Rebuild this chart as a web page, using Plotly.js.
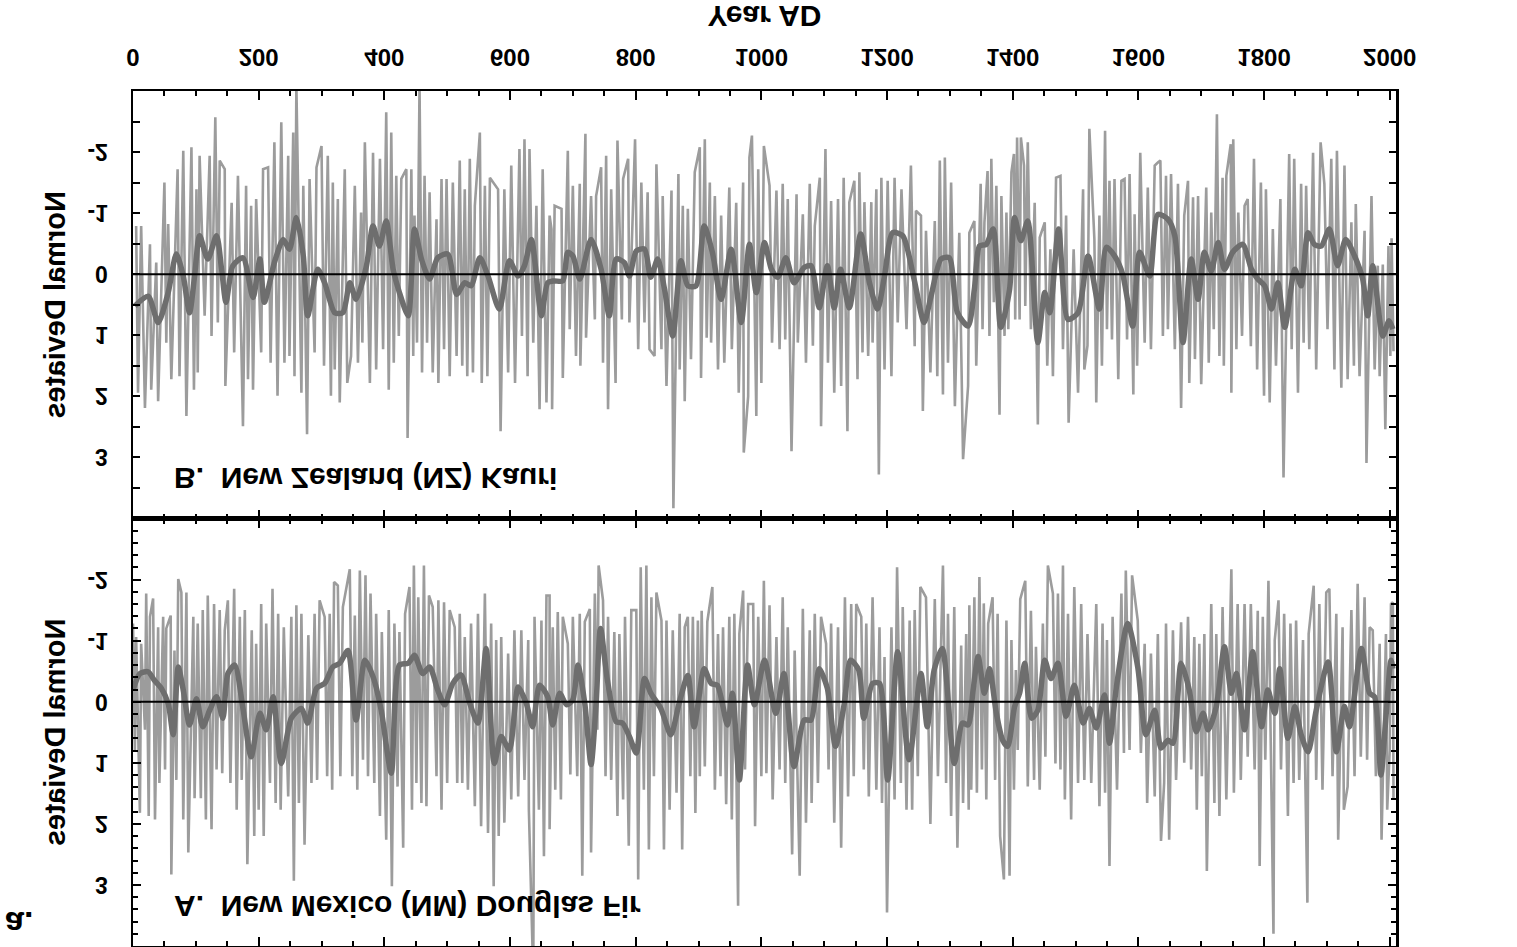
<!DOCTYPE html>
<html><head><meta charset="utf-8">
<script src="https://cdn.plot.ly/plotly-3.0.1.min.js"></script>
<style>html,body{margin:0;padding:0;background:#fff;overflow:hidden}#chart{width:1517px;height:947px}</style>
</head><body><div id="chart"></div>
<script>
// ---- Data (year AD, normal deviate) ----
// NZ Kauri (panel B): extreme annual values, negative side
const nzLow = [[5,-0.79],[13,-0.79],[27,-0.49],[37,-0.19],[50,-1.50],[56,-0.82],[71,-1.72],[80,-2.02],[93,-2.08],[101,-1.39],[106,-1.94],[122,-1.94],[131,-2.57],[138,-1.86],[146,-1.72],[157,-1.17],[167,-1.61],[180,-1.45],[188,-1.12],[196,-1.23],[207,-1.72],[215,-1.75],[225,-2.16],[236,-2.49],[247,-1.94],[255,-2.32],[260,-3.10],[271,-1.45],[281,-1.56],[292,-1.75],[300,-2.10],[310,-1.94],[318,-1.50],[326,-1.23],[337,-1.72],[353,-1.45],[363,-1.01],[369,-2.16],[382,-1.99],[393,-1.89],[403,-2.65],[411,-2.32],[419,-1.61],[427,-1.56],[435,-1.72],[443,-1.72],[448,-0.96],[456,-3.10],[464,-1.61],[472,-1.34],[483,-0.90],[491,-1.56],[499,-1.56],[509,-1.50],[520,-1.86],[528,-1.39],[536,-1.89],[544,-1.12],[552,-2.32],[560,-1.45],[568,-1.58],[581,-1.39],[591,-1.39],[602,-1.78],[615,-2.05],[623,-2.21],[631,-2.05],[642,-1.12],[652,-1.72],[663,-0.96],
[666,-0.74],[671,-1.12],[682,-1.07],[692,-2.02],[700,-1.45],[711,-1.48],[720,-2.30],[729,-1.28],[737,-1.28],[745,-1.75],[753,-1.94],[761,-1.39],[771,-2.19],[780,-1.56],[788,-1.89],[799,-2.21],[809,-1.50],[819,-1.34],[833,-1.80],[843,-1.28],[857,-1.37],[868,-1.64],[875,-1.12],[883,-1.07],[894,-1.67],[902,-2.08],[910,-2.21],[918,-1.50],[926,-1.28],[936,-0.96],[949,-1.42],[960,-1.17],[971,-1.50],[981,-1.91],[985,-2.27],[995,-1.72],[1004,-2.10],[1013,-1.45],[1024,-1.37],[1034,-1.48],[1042,-1.23],[1056,-1.31],[1066,-0.98],[1077,-1.48],[1085,-0.79],[1093,-1.58],[1102,-2.05],[1111,-1.20],[1122,-1.23],[1131,-1.58],[1140,-1.18],[1148,-1.53],[1156,-1.67],[1164,-1.18],[1175,-1.18],[1183,-1.39],[1191,-1.58],[1201,-1.53],[1212,-1.58],[1223,-1.39],[1238,-1.78],[1246,-1.04],[1254,-0.96],[1262,-0.71],[1276,-0.87],[1284,-1.86],[1292,-1.91],[1302,-1.50],[1315,-0.68],
[1331,-0.68],[1339,-0.87],[1349,-1.48],[1355,-0.85],[1360,-1.69],[1366,-1.89],[1374,-1.45],[1382,-1.28],[1390,-1.01],[1398,-1.67],[1402,-1.97],[1407,-2.24],[1413,-2.24],[1418,-1.78],[1424,-2.16],[1435,-1.17],[1443,-0.60],[1451,-0.85],[1460,-0.41],[1469,-1.58],[1476,-1.61],[1485,-0.96],[1497,-0.41],[1512,-1.39],[1522,-2.38],[1530,-0.57],[1538,-0.96],[1547,-2.35],[1554,-1.53],[1562,-1.56],[1573,-1.53],[1578,-1.56],[1586,-1.64],[1594,-0.98],[1603,-1.99],[1615,-1.42],[1626,-1.78],[1631,-1.83],[1635,-1.86],[1644,-1.61],[1652,-1.64],[1663,-1.48],[1673,-0.96],[1679,-1.53],[1687,-1.26],[1695,-1.28],[1708,-1.42],[1716,-1.01],[1725,-2.62],[1734,-1.58],[1740,-1.61],[1747,-2.13],[1751,-2.21],[1759,-1.01],[1769,-1.12],[1774,-1.23],[1784,-1.89],[1795,-1.50],[1803,-1.39],[1814,-0.74],[1826,-1.23],[1840,-1.97],[1848,-1.89],[1859,-1.48],[1867,-1.45],[1878,-1.99],[1890,-2.16],[1896,-1.48],[1907,-1.89],[1916,-2.02],[1928,-1.78],[1939,-0.85],[1946,-1.15],[1960,-0.71],[1971,-1.28],[1981,-0.14],[1989,-0.16],[1998,-0.46],[2003,-0.59]];
// NZ Kauri: extreme annual values, positive side
const nzHigh = [[8,1.94],[19,2.19],[29,1.89],[40,2.08],[53,1.12],[61,1.72],[74,1.67],[85,2.32],[97,1.89],[103,1.61],[114,0.68],[125,1.01],[135,0.79],[147,1.83],[161,1.28],[175,2.49],[183,1.72],[191,1.89],[204,1.28],[219,1.45],[230,1.99],[241,1.45],[249,1.34],[257,1.67],[268,1.94],[277,2.62],[289,1.28],[304,1.50],[315,1.99],[321,1.56],[329,2.10],[341,1.78],[347,1.34],[358,1.45],[365,1.12],[377,1.78],[387,1.56],[398,1.23],[407,1.89],[415,1.45],[423,1.01],[437,2.68],[446,1.34],[452,1.12],[460,1.61],[468,1.12],[477,1.61],[486,1.78],[495,1.23],[504,1.67],[515,1.34],[524,1.50],[532,1.67],[541,1.61],[555,1.78],[564,1.67],[585,2.57],[597,1.61],[608,1.78],[619,1.01],[628,1.67],[637,1.12],[647,2.21],[658,2.10],[667,2.21],
[684,1.70],[695,0.90],[705,1.34],[712,1.50],[721,1.04],[735,0.74],[748,1.45],[756,2.21],[768,1.78],[778,0.74],[790,0.79],[804,1.23],[814,0.79],[822,1.23],[830,1.34],[841,1.23],[849,1.83],[860,3.83],[870,1.56],[878,2.08],[888,1.39],[904,1.70],[913,1.04],[920,1.12],[931,1.56],[941,1.45],[953,1.23],[964,1.94],[972,2.92],[979,2.00],[992,2.32],[1000,1.78],[1017,1.12],[1029,1.23],[1038,1.07],[1048,2.90],[1058,1.12],[1071,1.45],[1082,1.17],[1095,2.49],[1106,1.45],[1116,1.94],[1127,1.83],[1137,2.57],[1153,1.72],[1161,1.28],[1170,1.34],[1177,1.12],[1187,3.28],[1196,1.56],[1207,1.67],[1217,0.79],[1231,0.90],[1244,1.18],[1257,2.24],[1269,1.61],[1280,1.67],[1289,1.97],[1297,1.45],[1308,2.16],[1321,3.03],
[1329,1.83],[1342,1.50],[1352,0.90],[1363,1.01],[1370,0.46],[1379,2.30],[1387,1.01],[1393,0.90],[1404,0.74],[1411,0.74],[1420,0.52],[1429,0.90],[1440,2.46],[1455,1.50],[1464,1.67],[1480,1.23],[1489,2.43],[1504,1.94],[1514,1.56],[1519,1.17],[1533,2.10],[1542,1.50],[1550,0.90],[1558,1.07],[1568,1.72],[1582,1.07],[1592,1.97],[1598,1.50],[1610,1.12],[1620,1.23],[1639,1.01],[1647,0.90],[1658,1.23],[1668,2.19],[1681,1.78],[1690,1.39],[1700,1.80],[1712,1.45],[1720,0.90],[1729,1.34],[1736,1.50],[1748,1.94],[1756,1.23],[1765,1.01],[1779,1.18],[1789,1.56],[1800,1.99],[1809,2.10],[1819,1.50],[1831,3.33],[1844,1.23],[1854,1.94],[1863,1.12],[1872,1.23],[1883,1.56],[1901,0.90],[1912,1.56],[1923,1.86],[1933,1.72],[1943,1.50],[1952,1.67],[1963,3.09],[1976,1.56],[1984,1.67],[1993,2.54],[2001,1.34],[2006,1.26]];
// NZ Kauri: smoothed curve
const nzSmooth = [[3,0.52],[24,0.36],[40,0.79],[56,0.30],[69,-0.33],[80,0.03],[90,0.63],[98,0.03],[106,-0.63],[119,-0.25],[133,-0.63],[141,-0.08],[148,0.46],[159,-0.14],[175,-0.27],[191,0.38],[202,-0.25],[209,0.46],[225,-0.19],[239,-0.57],[249,-0.41],[260,-0.93],[271,-0.30],[278,0.68],[294,-0.08],[305,0.14],[321,0.63],[334,0.63],[345,0.14],[355,0.41],[371,-0.11],[382,-0.79],[392,-0.46],[403,-0.87],[414,-0.08],[424,0.30],[438,0.68],[448,-0.74],[459,-0.25],[472,0.08],[485,-0.27],[501,-0.33],[515,0.33],[528,0.14],[538,0.19],[552,-0.27],[565,0.03],[583,0.57],[599,-0.22],[613,0.03],[623,-0.14],[634,-0.57],[650,0.68],[660,0.14],[670,0.11],[684,0.11],[692,-0.36],[700,-0.30],[711,0.08],[729,-0.57],[745,-0.08],[758,0.68],[769,-0.25],[782,-0.19],[790,0.03],[801,-0.38],[814,-0.41],[824,0.05],[835,-0.25],[846,0.25],[859,1.01],[872,-0.22],[883,0.19],[896,0.19],[909,-0.79],[922,-0.36],[936,0.41],[952,-0.41],[968,0.79],[981,-0.49],[992,0.30],[1005,-0.52],[1016,-0.08],[1026,0.05],[1039,-0.27],[1052,0.14],[1068,-0.11],[1079,-0.14],[1092,0.55],[1105,-0.14],[1116,0.55],[1126,-0.08],[1140,0.55],[1158,-0.66],[1172,0.14],[1185,0.57],[1196,0.03],[1209,-0.68],[1225,-0.63],[1243,0.08],[1259,0.79],[1270,0.36],[1286,-0.25],[1299,-0.27],[1312,0.63],[1329,0.85],[1339,0.25],[1347,-0.46],[1358,-0.49],[1369,-0.74],[1381,0.87],[1395,0.25],[1403,-0.93],[1413,-0.55],[1424,-0.87],[1440,1.12],[1451,0.30],[1459,0.63],[1473,-0.74],[1488,0.74],[1504,0.63],[1520,-0.30],[1538,0.57],[1549,-0.44],[1562,-0.30],[1575,0.00],[1591,0.85],[1602,-0.36],[1618,0.03],[1631,-0.98],[1647,-0.90],[1658,-0.63],[1671,1.12],[1684,-0.25],[1695,0.41],[1705,-0.36],[1716,-0.05],[1727,-0.52],[1737,-0.08],[1750,-0.36],[1766,-0.49],[1780,-0.08],[1790,0.08],[1801,0.19],[1812,0.57],[1822,0.14],[1833,0.87],[1849,-0.08],[1859,0.19],[1870,-0.68],[1880,-0.49],[1891,-0.46],[1904,-0.74],[1917,-0.14],[1930,-0.57],[1944,-0.30],[1957,0.08],[1965,0.68],[1973,-0.14],[1989,1.01],[1999,0.76],[2005,0.90]];

// NM Douglas Fir (panel A): extreme annual values, negative side
const nmLow = [[0,-1.28],[5,-1.06],[13,-0.95],[21,-1.77],[27,-1.39],[32,-1.69],[40,-1.22],[48,-1.39],[53,-1.20],[60,-1.41],[66,-0.84],[72,-2.01],[77,-1.79],[85,-1.79],[96,-1.39],[103,-1.28],[111,-1.50],[119,-1.74],[129,-1.60],[138,-1.50],[146,-1.17],[151,-1.66],[161,-1.85],[170,-1.39],[178,-1.50],[189,-1.17],[196,-0.95],[204,-1.60],[212,-1.28],[222,-1.85],[231,-1.44],[240,-1.22],[252,-1.39],[260,-1.58],[268,-1.44],[279,-1.09],[289,-1.44],[297,-1.66],[305,-1.39],[313,-1.44],[320,-1.96],[326,-1.90],[334,-1.55],[345,-2.17],[353,-1.41],[361,-2.15],[370,-2.07],[378,-1.77],[387,-1.44],[396,-1.14],[407,-1.50],[416,-1.28],[424,-1.14],[433,-1.44],[440,-1.88],[447,-2.23],[454,-1.71],[463,-2.23],[471,-1.74],[477,-1.55],[486,-1.66],[495,-1.63],[504,-1.50],[512,-1.22],[520,-1.44],[528,-1.06],[538,-1.28],[549,-1.44],[560,-1.77],[570,-1.28],[578,-1.01],[586,-1.06],[597,-0.79],[607,-1.17],[618,-1.17],[629,-1.01],[639,-1.39],[650,-1.33],[658,-1.74],
[663,-1.74],[668,-1.22],[676,-1.47],[684,-1.39],[692,-0.95],[700,-1.39],[711,-1.44],[719,-1.31],[727,-1.52],[735,-1.77],[741,-2.23],[748,-1.66],[756,-1.39],[766,-1.14],[774,-1.11],[783,-1.39],[793,-1.50],[801,-1.50],[808,-2.20],[817,-2.23],[825,-1.71],[833,-1.79],[841,-1.33],[849,-1.33],[859,-1.17],[870,-1.44],[878,-1.22],[883,-1.39],[891,-1.39],[899,-1.33],[905,-1.49],[914,-1.31],[922,-1.88],[931,-1.11],[939,-1.22],[949,-1.39],[957,-1.44],[965,-1.11],[971,-1.82],[979,-1.60],[987,-1.60],[995,-1.39],[1004,-1.98],[1013,-1.58],[1024,-1.06],[1034,-1.71],[1042,-1.22],[1053,-0.84],[1066,-1.52],[1077,-1.17],[1085,-1.44],[1095,-1.39],[1103,-0.95],[1111,-1.28],[1122,-1.22],[1133,-1.71],[1143,-1.60],[1151,-1.60],[1159,-1.39],[1167,-1.28],[1177,-1.71],[1188,-1.22],[1196,-0.73],[1207,-1.22],[1216,-2.20],[1225,-1.55],[1236,-1.33],[1244,-1.50],[1253,-1.88],[1262,-1.71],[1276,-1.68],[1289,-2.23],[1297,-1.44],[1307,-1.55],[1318,-0.92],[1326,-1.11],
[1331,-1.58],[1339,-1.71],[1347,-2.04],[1354,-1.61],[1361,-1.28],[1368,-1.71],[1376,-1.44],[1390,-1.33],[1398,-1.01],[1405,-0.52],[1412,-1.68],[1420,-1.98],[1429,-1.49],[1437,-0.90],[1448,-1.28],[1456,-2.23],[1464,-1.77],[1472,-1.77],[1480,-2.23],[1488,-1.44],[1498,-1.88],[1509,-1.60],[1519,-1.11],[1533,-1.60],[1543,-1.28],[1550,-1.01],[1559,-1.39],[1573,-1.77],[1580,-2.15],[1590,-2.07],[1599,-1.33],[1610,-0.95],[1620,-0.79],[1631,-1.11],[1644,-1.28],[1655,-1.17],[1668,-1.30],[1679,-1.39],[1689,-1.06],[1697,-0.95],[1705,-1.11],[1716,-1.60],[1724,-1.11],[1734,-1.55],[1748,-2.17],[1758,-1.60],[1769,-1.60],[1779,-1.60],[1790,-1.49],[1798,-1.39],[1807,-1.98],[1817,-1.01],[1823,-1.66],[1832,-1.44],[1842,-1.28],[1851,-1.33],[1862,-1.01],[1871,-1.11],[1879,-1.90],[1888,-1.60],[1899,-1.79],[1904,-1.85],[1915,-1.44],[1925,-1.22],[1939,-1.50],[1949,-1.93],[1960,-1.71],[1968,-1.22],[1973,-1.17],[1984,-0.95],[1994,-1.11],[2002,-1.60],[2005,-1.63]];
// NM Douglas Fir: extreme annual values, positive side
const nmHigh = [[3,0.79],[11,1.82],[19,0.46],[25,1.87],[35,1.93],[42,1.33],[51,1.11],[61,2.83],[69,1.28],[80,1.93],[88,2.47],[98,1.58],[108,1.58],[116,1.93],[125,2.09],[133,1.11],[142,1.17],[155,1.33],[165,1.77],[173,1.28],[182,2.66],[193,2.20],[200,1.77],[208,2.20],[218,1.33],[227,1.66],[235,1.77],[247,1.55],[256,2.93],[264,1.66],[273,2.34],[284,1.33],[293,1.28],[309,1.22],[317,1.44],[330,1.22],[349,1.22],[357,1.44],[366,0.95],[374,1.22],[384,1.33],[393,1.87],[403,2.26],[412,3.02],[421,1.39],[430,2.39],[444,1.77],[451,1.33],[459,1.66],[467,1.71],[483,1.22],[491,1.77],[500,1.33],[516,1.33],[524,1.33],[533,1.44],[544,1.71],[554,2.04],[565,2.15],[574,3.02],[582,2.20],[591,1.98],[602,1.60],[613,1.55],[623,1.28],[630,1.77],[637,4.50],[646,1.77],[654,2.53],[663,2.09],
[672,1.44],[681,1.60],[696,1.19],[707,1.22],[715,2.85],[729,2.47],[739,0.46],[752,1.22],[761,1.28],[771,1.87],[780,1.60],[789,2.36],[804,2.91],[813,1.44],[821,2.42],[829,1.22],[845,2.42],[854,1.77],[865,1.49],[874,2.42],[887,1.22],[895,1.82],[902,1.22],[910,1.06],[926,1.44],[935,1.22],[944,1.68],[953,1.93],[963,3.34],[974,1.11],[990,2.04],[1000,1.22],[1008,1.17],[1018,1.60],[1029,1.11],[1038,1.33],[1049,2.50],[1061,2.85],[1071,1.98],[1080,1.66],[1090,1.33],[1107,1.11],[1116,1.98],[1127,2.39],[1138,1.55],[1147,1.22],[1163,1.11],[1171,1.55],[1183,1.44],[1192,1.66],[1200,3.45],[1212,1.60],[1222,1.33],[1231,1.77],[1240,1.77],[1249,1.22],[1269,2.00],[1281,1.22],[1294,1.33],[1302,1.87],[1312,2.39],[1321,1.66],[1330,1.77],
[1334,1.44],[1343,1.49],[1351,1.11],[1358,1.60],[1372,1.28],[1380,2.20],[1386,2.91],[1395,2.85],[1402,1.44],[1408,0.79],[1424,1.39],[1434,1.28],[1443,1.44],[1452,0.90],[1468,1.01],[1476,1.11],[1483,1.60],[1493,1.93],[1504,1.33],[1514,1.28],[1525,1.33],[1538,1.71],[1547,1.49],[1554,2.69],[1566,1.44],[1577,0.84],[1586,0.79],[1604,0.84],[1614,1.66],[1626,1.55],[1636,2.28],[1641,1.33],[1649,2.26],[1660,1.28],[1673,1.00],[1684,1.11],[1693,1.77],[1701,1.22],[1709,2.77],[1721,1.66],[1729,1.87],[1740,1.60],[1752,1.49],[1763,1.28],[1774,0.90],[1785,1.11],[1793,2.69],[1802,0.95],[1815,3.80],[1827,1.11],[1838,1.87],[1847,1.33],[1856,1.28],[1869,3.29],[1883,1.28],[1893,1.44],[1909,1.22],[1918,2.26],[1927,1.77],[1933,1.39],[1944,1.22],[1954,0.90],[1964,0.95],[1978,1.22],[1987,2.26],[1996,1.77],[2000,0.79],[2006,1.60]];
// NM Douglas Fir: smoothed curve
const nmSmooth = [[0,-0.19],[11,-0.46],[24,-0.49],[34,-0.35],[45,-0.22],[56,0.03],[64,0.54],[72,-0.57],[80,-0.19],[90,0.38],[101,-0.05],[111,0.41],[122,0.14],[133,-0.08],[143,0.27],[151,-0.46],[162,-0.60],[175,0.11],[188,0.90],[202,0.19],[212,0.46],[223,-0.08],[236,1.01],[252,0.27],[268,0.11],[278,0.35],[292,-0.22],[305,-0.30],[318,-0.57],[329,-0.63],[342,-0.84],[355,0.30],[369,-0.68],[382,-0.41],[395,0.14],[411,1.17],[424,-0.60],[438,-0.63],[448,-0.76],[461,-0.46],[472,-0.57],[485,-0.19],[496,0.05],[509,-0.30],[522,-0.44],[536,0.03],[549,0.35],[562,-0.87],[575,1.01],[586,0.57],[599,0.79],[613,-0.24],[626,0.03],[636,0.41],[647,-0.27],[660,-0.08],[668,0.38],[679,-0.14],[690,0.05],[700,-0.03],[708,-0.60],[719,0.03],[729,1.03],[737,0.03],[744,-1.20],[755,-0.35],[769,0.33],[779,0.35],[790,0.57],[801,0.84],[814,-0.38],[824,-0.14],[840,0.11],[856,0.54],[869,0.03],[883,-0.43],[893,0.41],[909,-0.54],[920,-0.30],[930,-0.27],[946,0.38],[954,-0.14],[965,1.28],[978,-0.60],[989,0.05],[1005,-0.68],[1023,0.19],[1036,-0.46],[1052,1.06],[1068,0.30],[1079,0.30],[1092,-0.54],[1105,-0.22],[1118,0.73],[1132,0.03],[1142,-0.68],[1155,-0.52],[1163,0.27],[1177,-0.30],[1188,-0.30],[1201,1.28],[1217,-0.82],[1235,0.95],[1254,-0.46],[1264,0.41],[1275,-0.52],[1288,-0.87],[1307,1.01],[1320,0.35],[1329,0.38],[1337,-0.19],[1345,-0.74],[1355,-0.14],[1363,-0.54],[1374,0.19],[1384,0.63],[1392,0.73],[1403,0.08],[1411,-0.14],[1419,-0.63],[1430,0.27],[1440,0.14],[1451,-0.68],[1461,-0.38],[1472,-0.63],[1485,0.24],[1498,-0.27],[1512,0.35],[1522,0.11],[1533,0.43],[1546,-0.11],[1554,0.68],[1565,-0.24],[1583,-1.28],[1599,-0.57],[1612,0.54],[1626,0.14],[1636,0.76],[1647,0.63],[1655,0.68],[1668,-0.63],[1681,-0.19],[1692,0.49],[1703,0.19],[1711,0.46],[1724,0.08],[1737,-0.90],[1748,-0.14],[1756,-0.46],[1769,0.46],[1782,-0.82],[1796,0.41],[1806,-0.19],[1817,0.19],[1825,-0.54],[1838,0.60],[1849,0.08],[1859,0.54],[1870,0.82],[1883,0.14],[1902,-0.65],[1915,0.82],[1928,0.08],[1936,0.41],[1955,-0.87],[1968,-0.14],[1976,-0.08],[1986,1.20],[1994,0.25],[2002,-0.68],[2005,-0.54]];

const yTickVals = [-2, -1, 0, 1, 2, 3];
const yTickText = ['-2', '-1', '0', '1', '2', '3'];
const panelLabels = ['A.\u00a0 New Mexico (NM) Douglas Fir', 'B.\u00a0 New Zealand (NZ) Kauri'];
const xTitle = 'Year AD';
const yTitle = 'Normal Deviates';

// ---- Build ----
const FONT = 'Liberation Sans, Arial, Helvetica, sans-serif';
const byYear = (a, b) => a[0] - b[0];
const nzRaw = nzLow.concat(nzHigh).sort(byYear);
const nmRaw = nmLow.concat(nmHigh).sort(byYear);
const RAW_COLOR = '#9c9c9c', SMOOTH_COLOR = '#6e6e6e';

function rawTrace(pts, xa, ya) {
  return {x: pts.map(p => p[0]), y: pts.map(p => p[1]), xaxis: xa, yaxis: ya, type: 'scatter', mode: 'lines',
    line: {color: RAW_COLOR, width: 2.6}, hoverinfo: 'skip', showlegend: false};
}
function smoothTrace(pts, xa, ya) {
  return {x: pts.map(p => p[0]), y: pts.map(p => p[1]), xaxis: xa, yaxis: ya, type: 'scatter', mode: 'lines',
    line: {color: SMOOTH_COLOR, width: 5.5, shape: 'spline', smoothing: 0.7}, hoverinfo: 'skip', showlegend: false};
}

const traces = [
  rawTrace(nmRaw, 'x2', 'y2'), smoothTrace(nmSmooth, 'x2', 'y2'),
  rawTrace(nzRaw, 'x', 'y'), smoothTrace(nzSmooth, 'x', 'y')
];

const xCommon = {
  range: [0, 2010], tickmode: 'linear', tick0: 0, dtick: 200,
  ticks: 'inside', ticklen: 9, tickwidth: 2, tickcolor: '#000',
  showline: true, linecolor: '#000', linewidth: 2.5, mirror: 'allticks',
  showgrid: false, zeroline: false,
  minor: {tickmode: 'linear', tick0: 0, dtick: 50, ticks: 'inside', ticklen: 5, tickwidth: 2, tickcolor: '#000', showgrid: false}
};
function yAxis(domain, anchor, minorStep, minorLen, majorLen) {
  return {
    domain: domain, anchor: anchor, range: [-3, 4],
    tickmode: 'array', tickvals: yTickVals, ticktext: yTickText,
    ticks: 'inside', ticklen: majorLen, tickwidth: 2, tickcolor: '#000',
    showline: true, linecolor: '#000', linewidth: 2.5, mirror: 'allticks',
    showgrid: false, zeroline: false,
    tickfont: {family: FONT, size: 23, weight: 700, color: '#000'},
    ticklabelstandoff: 18,
    minor: {tickmode: 'linear', tick0: 0, dtick: minorStep, ticks: 'inside', ticklen: minorLen, tickwidth: 2, tickcolor: '#000', showgrid: false},
    title: {text: yTitle, font: {family: FONT, size: 29, weight: 700, color: '#000'}, standoff: 14}
  };
}

const layout = {
  width: 1517, height: 947,
  margin: {l: 133, r: 121, t: 1, b: 91, pad: 0},
  paper_bgcolor: '#fff', plot_bgcolor: '#fff',
  showlegend: false,
  xaxis: Object.assign({}, xCommon, {anchor: 'y', domain: [0, 1],
    tickfont: {family: FONT, size: 24, weight: 700, color: '#000'}, ticklabelstandoff: 11,
    title: {text: xTitle, font: {family: FONT, size: 30, weight: 700, color: '#000'}, standoff: 31}}),
  xaxis2: Object.assign({}, xCommon, {anchor: 'y2', domain: [0, 1], matches: 'x', showticklabels: false}),
  yaxis: yAxis([0, 0.5], 'x', 0.5, 7, 7),
  yaxis2: yAxis([0.5, 1], 'x2', 0.2, 5, 8),
  shapes: [
    {type: 'line', xref: 'x domain', x0: 0, x1: 1, yref: 'y', y0: 0, y1: 0, line: {color: '#000', width: 2}, layer: 'above'},
    {type: 'line', xref: 'x2 domain', x0: 0, x1: 1, yref: 'y2', y0: 0, y1: 0, line: {color: '#000', width: 2}, layer: 'above'}
  ],
  annotations: [
    {xref: 'x2', yref: 'y2', x: 62, y: 3.35, text: panelLabels[0], showarrow: false, xanchor: 'left', yanchor: 'middle',
     font: {family: FONT, size: 30, weight: 700, color: '#000'}},
    {xref: 'x', yref: 'y', x: 62, y: 3.35, text: panelLabels[1], showarrow: false, xanchor: 'left', yanchor: 'middle',
     font: {family: FONT, size: 30, weight: 700, color: '#000'}},
    {xref: 'paper', yref: 'paper', x: -0.103, y: 0.974, text: 'a.', showarrow: false, xanchor: 'left', yanchor: 'middle',
     font: {family: FONT, size: 34, weight: 700, color: '#000'}}
  ]
};

Plotly.newPlot('chart', traces, layout, {staticPlot: true, displayModeBar: false}).then(function () {
  // The reference figure is shown mirrored top-to-bottom; reproduce that orientation.
  document.getElementById('chart').style.transform = 'scaleY(-1)';
});
</script>
</body></html>
